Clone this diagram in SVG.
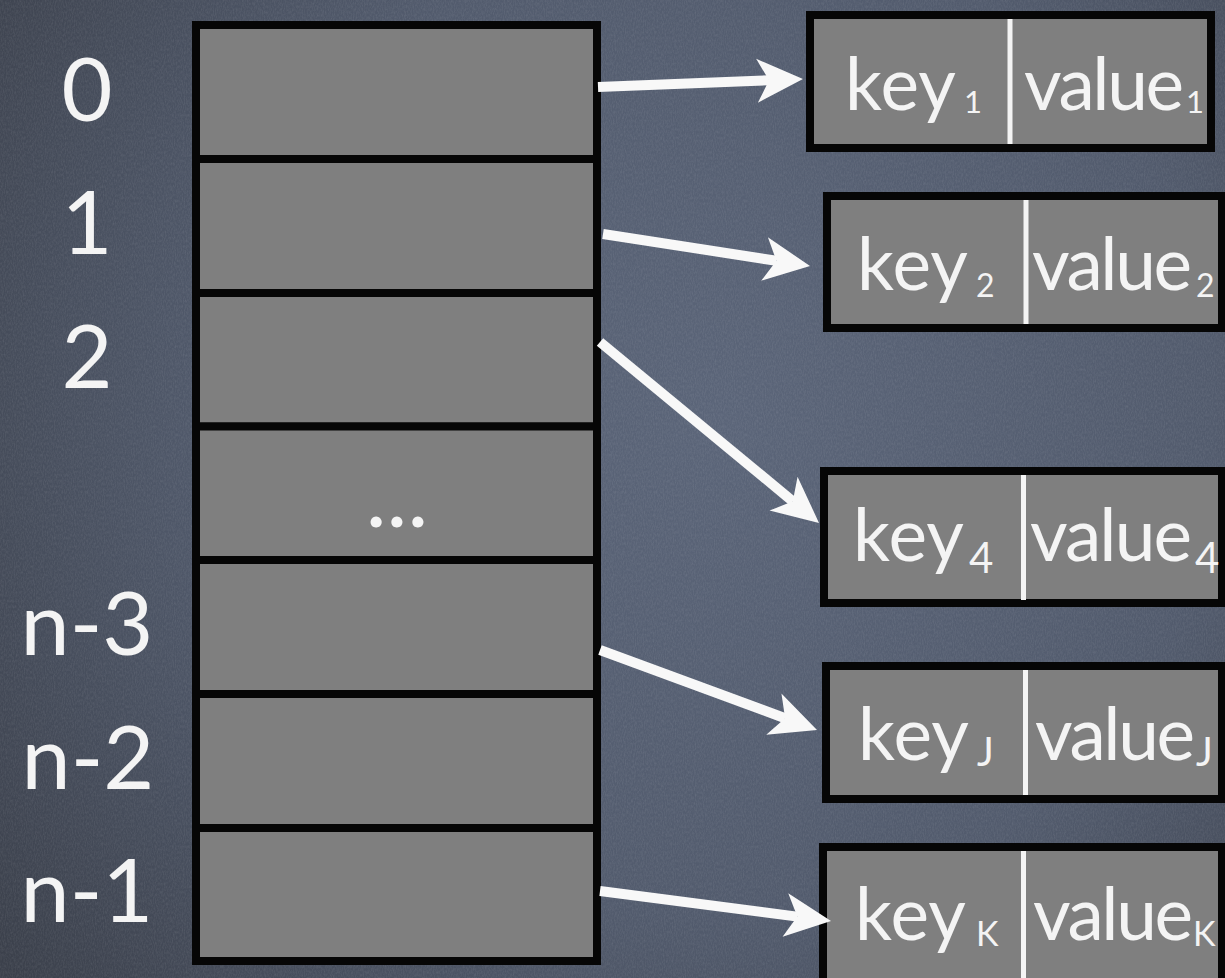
<svg xmlns="http://www.w3.org/2000/svg" width="1225" height="978" viewBox="0 0 1225 978">
  <defs>
    <radialGradient id="board" cx="720" cy="420" r="900" gradientUnits="userSpaceOnUse">
      <stop offset="0" stop-color="#5b6579"/>
      <stop offset="0.55" stop-color="#525b6d"/>
      <stop offset="1" stop-color="#3b404b"/>
    </radialGradient>
    <filter id="chalk" x="0" y="0" width="100%" height="100%">
      <feTurbulence type="fractalNoise" baseFrequency="0.9 0.35" numOctaves="3" seed="7" result="n"/>
      <feColorMatrix type="matrix" values="0 0 0 0 1  0 0 0 0 1  0 0 0 0 1  0 0 0 0.55 -0.18"/>
    </filter>
    <marker id="head" markerUnits="userSpaceOnUse" viewBox="0 -24 50 48" refX="12" refY="0"
            markerWidth="50" markerHeight="48" orient="auto" overflow="visible">
      <path d="M46 0 L0 -22 L12 0 L0 22 Z" fill="#f8f8f8"/>
    </marker>
    <style>
      .cell { fill: #7f7f7f; stroke: #060606; stroke-width: 8; }
      .idx { font-family: Lato, "Open Sans", "DejaVu Sans", sans-serif; font-size: 88px; fill: #f4f4f4; text-anchor: middle; }
      .txt { font-family: Lato, "Open Sans", "DejaVu Sans", sans-serif; font-size: 73px; fill: #f4f4f4; }
      .sub { font-family: Lato, "Open Sans", "DejaVu Sans", sans-serif; fill: #f4f4f4; }
      .split { stroke: #f4f4f4; stroke-width: 5; }
      .link { stroke: #f8f8f8; stroke-width: 10; fill: none; marker-end: url(#head); }
    </style>
  </defs>

  <!-- chalkboard backdrop -->
  <rect width="1225" height="978" fill="url(#board)"/>
  <rect width="1225" height="978" filter="url(#chalk)" opacity="0.25"/>

  <!-- bucket array -->
  <g id="slot-0">
    <rect class="cell" x="196" y="25" width="401" height="134"/>
    <text class="idx" x="87" y="121">0</text>
  </g>
  <g id="slot-1">
    <rect class="cell" x="196" y="159" width="401" height="134"/>
    <text class="idx" x="87" y="254">1</text>
  </g>
  <g id="slot-2">
    <rect class="cell" x="196" y="293" width="401" height="133.5"/>
    <text class="idx" x="87" y="388">2</text>
  </g>
  <g id="slot-mid">
    <rect class="cell" x="196" y="426.5" width="401" height="133.5"/>
    <text class="idx" x="397" y="527" font-size="84">...</text>
  </g>
  <g id="slot-n3">
    <rect class="cell" x="196" y="560" width="401" height="134"/>
    <text class="idx" x="87" y="655">n-3</text>
  </g>
  <g id="slot-n2">
    <rect class="cell" x="196" y="694" width="401" height="134"/>
    <text class="idx" x="88" y="789">n-2</text>
  </g>
  <g id="slot-n1">
    <rect class="cell" x="196" y="828" width="401" height="133"/>
    <text class="idx" x="87" y="922">n-1</text>
  </g>

  <!-- key/value entries -->
  <g id="entry-1">
    <rect class="cell" x="810" y="15" width="401" height="133"/>
    <line class="split" x1="1010" y1="19" x2="1010" y2="144"/>
    <text class="txt" x="845" y="110" textLength="111" lengthAdjust="spacing">key</text>
    <text class="sub" x="964" y="113" font-size="31">1</text>
    <text class="txt" x="1024" y="110" textLength="160" lengthAdjust="spacing">value</text>
    <text class="sub" x="1186" y="113" font-size="31">1</text>
  </g>
  <g id="entry-2">
    <rect class="cell" x="827" y="196" width="395" height="132"/>
    <line class="split" x1="1026" y1="200" x2="1026" y2="324"/>
    <text class="txt" x="857" y="290" textLength="111" lengthAdjust="spacing">key</text>
    <text class="sub" x="976" y="297" font-size="32">2</text>
    <text class="txt" x="1032" y="290" textLength="160" lengthAdjust="spacing">value</text>
    <text class="sub" x="1196" y="297" font-size="32">2</text>
  </g>
  <g id="entry-4">
    <rect class="cell" x="824" y="471" width="398" height="132"/>
    <line class="split" x1="1023.5" y1="475" x2="1023.5" y2="600"/>
    <text class="txt" x="853" y="561" textLength="111" lengthAdjust="spacing">key</text>
    <text class="sub" x="969" y="573" font-size="42">4</text>
    <text class="txt" x="1030" y="561" textLength="162" lengthAdjust="spacing">value</text>
    <text class="sub" x="1195" y="573" font-size="42">4</text>
  </g>
  <g id="entry-j">
    <rect class="cell" x="826" y="666" width="396" height="133"/>
    <line class="split" x1="1025.5" y1="670" x2="1025.5" y2="795"/>
    <text class="txt" x="858" y="760" textLength="111" lengthAdjust="spacing">key</text>
    <text class="sub" x="977" y="766" font-size="40">J</text>
    <text class="txt" x="1035" y="760" textLength="160" lengthAdjust="spacing">value</text>
    <text class="sub" x="1196" y="766" font-size="40">J</text>
  </g>
  <g id="entry-k">
    <rect class="cell" x="823" y="847" width="399" height="140"/>
    <line class="split" x1="1023.5" y1="851" x2="1023.5" y2="978"/>
    <text class="txt" x="855" y="940" textLength="111" lengthAdjust="spacing">key</text>
    <text class="sub" x="976" y="946" font-size="34">K</text>
    <text class="txt" x="1033" y="940" textLength="160" lengthAdjust="spacing">value</text>
    <text class="sub" x="1193" y="946" font-size="34">K</text>
  </g>

  <!-- pointers from slots to entries -->
  <g id="connectors">
    <line class="link" x1="598" y1="87" x2="769" y2="80.3"/>
    <line class="link" x1="603" y1="234" x2="776.4" y2="260.8"/>
    <line class="link" x1="600" y1="342" x2="792.8" y2="501.3"/>
    <line class="link" x1="600" y1="650" x2="785.1" y2="718.2"/>
    <line class="link" x1="600" y1="891" x2="797.3" y2="916.6"/>
  </g>
</svg>
